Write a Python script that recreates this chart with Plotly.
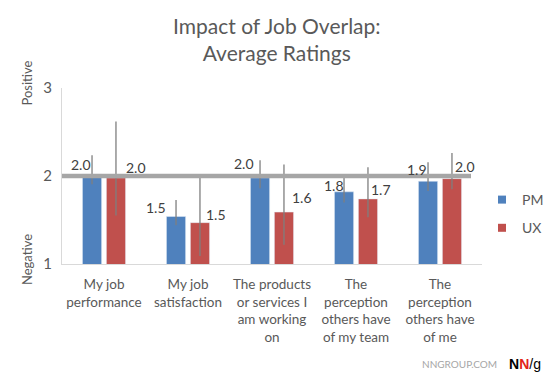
import plotly.graph_objects as go

# ---- data ----
CATEGORIES = [
    "My job<br>performance",
    "My job<br>satisfaction",
    "The products<br>or services I<br>am working<br>on",
    "The<br>perception<br>others have<br>of my team",
    "The<br>perception<br>others have<br>of me",
]
PM_VALUES = [2.02, 1.54, 1.98, 1.82, 1.94]
UX_VALUES = [1.98, 1.47, 1.59, 1.74, 1.97]
PM_HIGH = [2.235, 1.727, 2.18, 2.02, 2.156]
PM_LOW = [1.906, 1.44, 1.86, 1.70, 1.83]
UX_HIGH = [2.62, 1.99, 2.13, 2.10, 2.26]
UX_LOW = [1.55, 1.09, 1.22, 1.53, 1.85]
REFERENCE = 2
Y_TICKS = [1, 2, 3]
SERIES_NAMES = ["PM", "UX"]
TITLE = "Impact of Job Overlap:<br>Average Ratings"

# ---- style ----
FONT = "Lato"
TEXT = "#595959"
LABEL = "#404040"
AXIS = "#d9d9d9"
COLORS = ["#4f81bd", "#c0504d"]
ERR = "#7f7f7f"
BARGAP = 0.43
BARGROUPGAP = 0.2
W, H = 553, 379
ML, MR, MT, MB = 62, 71, 88, 115
PW, PH = W - ML - MR, H - MT - MB
# label shifts (px) relative to bar top centre
PM_DX = [-11.5, -20, -16, -10, -11]
PM_DY = [10, 9, 14, 6, 12]
UX_DX = [20.5, 16, 18.5, 13, 13.4]
UX_DY = [10, 8, 15, 9, 12]


def px_x(px):
    return (px - ML) / PW


def px_y(py):
    return (H - MB - py) / PH


fig = go.Figure()
series = [
    (PM_VALUES, PM_HIGH, PM_LOW),
    (UX_VALUES, UX_HIGH, UX_LOW),
]
for name, color, (vals, hi, lo) in zip(SERIES_NAMES, COLORS, series):
    fig.add_trace(go.Bar(
        x=CATEGORIES, y=vals, name=name, marker_color=color,
        showlegend=False,
        error_y=dict(type="data", symmetric=False,
                     array=[h - v for h, v in zip(hi, vals)],
                     arrayminus=[v - l for v, l in zip(vals, lo)],
                     color=ERR, thickness=1.3, width=0),
    ))
for name, color in zip(SERIES_NAMES, COLORS):
    fig.add_trace(go.Scatter(
        x=[None], y=[None], mode="markers", name=name, legendgroup=name,
        marker=dict(symbol="square", size=8, color=color),
    ))

offset = (1 - BARGAP) / 4
anns = []
for i, v in enumerate(PM_VALUES):
    anns.append(dict(x=i - offset, y=v, xref="x", yref="y", text=f"{v:.1f}",
                     showarrow=False, xshift=PM_DX[i], yshift=PM_DY[i],
                     xanchor="center", yanchor="middle",
                     font=dict(family=FONT, size=14, color=LABEL)))
for i, v in enumerate(UX_VALUES):
    anns.append(dict(x=i + offset, y=v, xref="x", yref="y", text=f"{v:.1f}",
                     showarrow=False, xshift=UX_DX[i], yshift=UX_DY[i],
                     xanchor="center", yanchor="middle",
                     font=dict(family=FONT, size=14, color=LABEL)))
anns.append(dict(x=px_x(27), y=px_y(83.5), xref="paper", yref="paper", text="Positive",
                 textangle=-90, showarrow=False, xanchor="center", yanchor="middle",
                 font=dict(family=FONT, size=13, color=TEXT)))
anns.append(dict(x=px_x(27), y=px_y(260), xref="paper", yref="paper", text="Negative",
                 textangle=-90, showarrow=False, xanchor="center", yanchor="middle",
                 font=dict(family=FONT, size=13, color=TEXT)))
anns.append(dict(x=px_x(277), y=px_y(11), xref="paper", yref="paper", text=TITLE,
                 showarrow=False, xanchor="center", yanchor="top",
                 font=dict(family=FONT, size=21, color=TEXT)))
anns.append(dict(x=px_x(499), y=px_y(364), xref="paper", yref="paper", text="NNGROUP.COM",
                 showarrow=False, xanchor="right", yanchor="middle",
                 font=dict(family=FONT, size=10, color="#a6a6a6")))
anns.append(dict(x=px_x(507), y=px_y(364), xref="paper", yref="paper",
                 text="<b>N</b><b><span style='color:#e2231a'>N</span></b>/g",
                 showarrow=False, xanchor="left", yanchor="middle",
                 font=dict(family="Liberation Sans", size=14, color="#000000")))

fig.update_layout(
    width=W, height=H,
    margin=dict(l=ML, r=MR, t=MT, b=MB, autoexpand=False),
    paper_bgcolor="white", plot_bgcolor="white",
    barmode="group", bargap=BARGAP, bargroupgap=BARGROUPGAP,
    font=dict(family=FONT, size=14, color=TEXT),
    xaxis=dict(showline=True, linecolor=AXIS, linewidth=1, ticks="",
               showgrid=False, zeroline=False, automargin=False,
               ticklabelstandoff=8,
               tickfont=dict(family=FONT, size=13.5, color=TEXT)),
    yaxis=dict(range=[1, 3], tickvals=Y_TICKS, showline=True, linecolor=AXIS,
               linewidth=1, ticks="inside", ticklen=6, tickcolor=AXIS,
               showgrid=False, zeroline=False, ticklabelstandoff=6, automargin=False,
               tickfont=dict(family=FONT, size=15, color=TEXT)),
    legend=dict(x=1.0, xanchor="left", y=px_y(184), yanchor="top",
                tracegroupgap=7, font=dict(family=FONT, size=14, color=TEXT),
                itemwidth=30),
    shapes=[dict(type="line", xref="paper", yref="y", x0=0, x1=px_x(471),
                 y0=REFERENCE, y1=REFERENCE, layer="above",
                 line=dict(color="#a6a6a6", width=4.5))],
    annotations=anns,
)

fig.write_html("out.html", config={"displayModeBar": False},
               post_script="document.body.style.margin='0';")
